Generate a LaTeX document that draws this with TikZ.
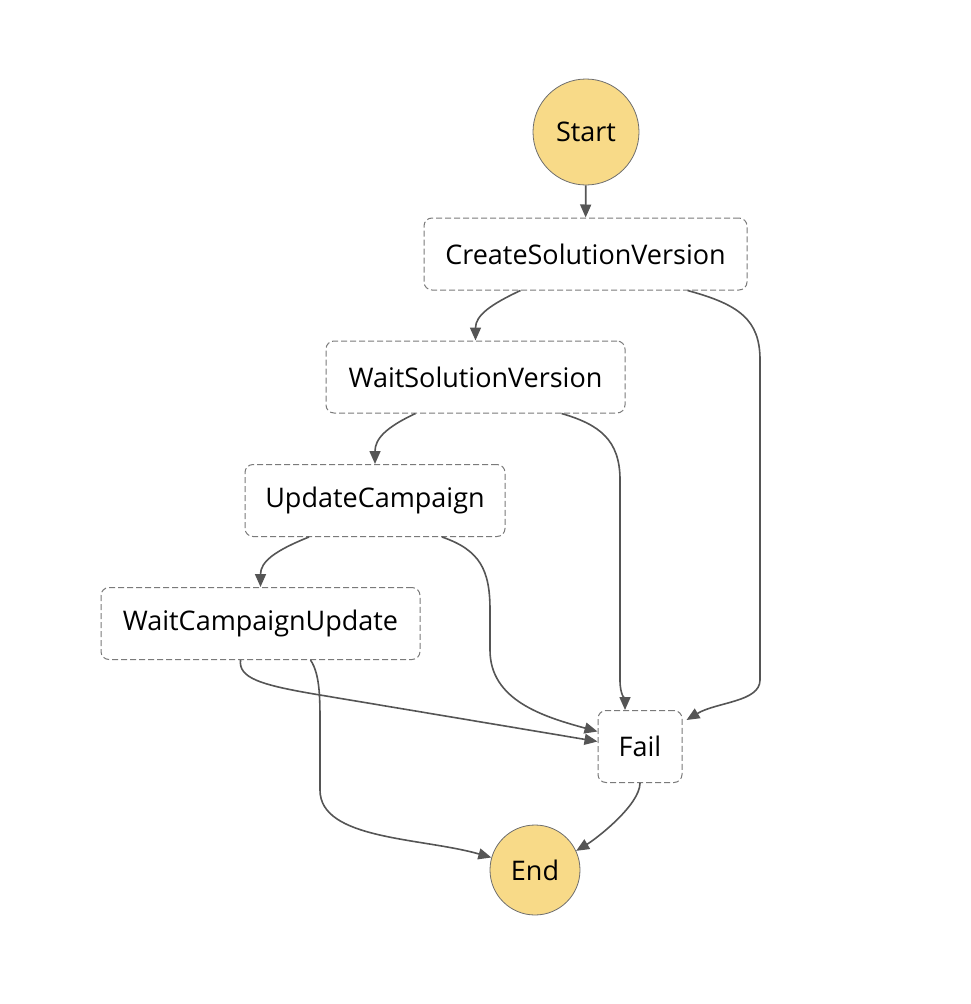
\documentclass[tikz,border=0pt]{standalone}
\usepackage{fontspec}
\setmainfont{Open Sans}
\usetikzlibrary{arrows.meta}

\definecolor{termfill}{HTML}{F8DA88}
\definecolor{termline}{HTML}{6E6E6E}
\definecolor{boxline}{HTML}{7A7A7A}
\definecolor{flowline}{HTML}{555555}

\begin{document}
\begin{tikzpicture}[x=1pt, y=-1pt,
    font=\fontsize{27}{30}\selectfont,
    term/.style={circle, fill=termfill, draw=termline, line width=0.8pt},
    task/.style={rectangle, rounded corners=8pt, draw=boxline, line width=1pt,
                 dash pattern=on 6pt off 3pt, minimum height=72pt, inner sep=0pt},
    flow/.style={draw=flowline, line width=1.6pt,
                 -{Triangle[length=13pt, width=11pt]}}]
    \useasboundingbox (0,0) rectangle (970,1004);

    \node[term,
          minimum size=106pt] (start) at (586,132) {Start};
    \node[task,
          minimum width=323pt] (create) at (585.5,254) {CreateSolutionVersion};
    \node[task,
          minimum width=299pt] (waitsol) at (475.5,377) {WaitSolutionVersion};
    \node[task,
          minimum width=260pt] (update) at (375,500.5) {UpdateCampaign};
    \node[task,
          minimum width=319pt] (waitcamp) at (260.5,623.5) {WaitCampaignUpdate};
    \node[task,
          minimum width=84pt] (fail) at (640,746.5) {Fail};
    \node[term,
          minimum size=90pt] (end) at (535,870) {End};

    % main path
    \draw[flow] (start) -- (create);
    \draw[flow] ([xshift=-65pt]create.south)
        .. controls +(-30,14) and +(0,-25) .. (waitsol.north);
    \draw[flow] ([xshift=-60pt]waitsol.south)
        .. controls +(-30,14) and +(0,-25) .. (update.north);
    \draw[flow] ([xshift=-66pt]update.south)
        .. controls +(-35,14) and +(0,-25) .. (waitcamp.north);
    \draw[flow] ([xshift=50pt]waitcamp.south)
        .. controls +(10,15) and +(0,-30) .. (320,730) -- (320,790)
        .. controls +(0,50) and +(-70,-20) .. (end.164);

    % failures
    \draw[flow] ([xshift=102pt]create.south)
        .. controls +(52,14) and +(0,-40) .. (760,360) -- (760,680)
        .. controls +(0,22) and +(30,-18) .. ([shift={(4,10)}]fail.north east);
    \draw[flow] ([xshift=86pt]waitsol.south)
        .. controls +(38,11) and +(0,-40) .. (620,480) -- (620,680)
        .. controls +(0,15) and +(0,-10) .. ([xshift=-15pt]fail.north);
    \draw[flow] ([xshift=67pt]update.south)
        .. controls +(38,13) and +(0,-40) .. (490,610) -- (490,650)
        .. controls +(0,50) and +(-55,-15) .. ([shift={(0,-15)}]fail.west);
    \draw[flow] ([xshift=-20pt]waitcamp.south)
        .. controls +(-2,18) and +(-60,-10) .. (320,695)
        -- ([shift={(0,-5)}]fail.west);
    \draw[flow] (fail.south)
        .. controls +(0,22) and +(20,-12) .. (end.25);
\end{tikzpicture}
\end{document}
